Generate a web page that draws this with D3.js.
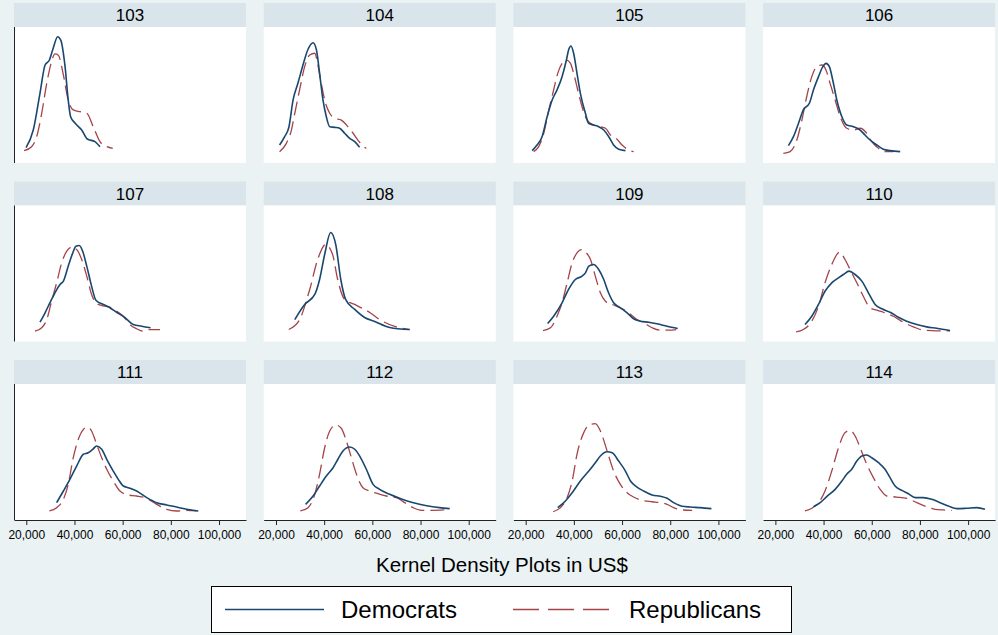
<!DOCTYPE html>
<html>
<head>
<meta charset="utf-8">
<script src="https://cdn.jsdelivr.net/npm/d3@7"></script>
<style>
  body { margin: 0; background: #eaf2f3; }
  text { font-family: "Liberation Sans", Arial, sans-serif; }
</style>
</head>
<body>
<script>
// salaries in thousands of US$, density in relative units (0-100)
const congresses = ["103", "104", "105", "106", "107", "108", "109", "110", "111", "112", "113", "114"];
const xTicks = [20, 40, 60, 80, 100];

const dem103 = [[19.9,5.7],[22.9,19.5],[25.7,48.4],[27.8,70.3],[29.6,74.2],[31.2,83.6],[33.0,92.4],[34.3,89.8],[36.1,69],[37.4,43],[38.4,29.9],[40.2,25],[43.0,19.5],[45.3,12.5],[48.5,10.4],[50.6,6.5]];
const rep103 = [[19.1,3.4],[22.2,6.5],[24.3,14.3],[26.4,32.6],[28.5,56],[30.5,73],[31.9,79],[33.3,78],[35.4,62.5],[37.4,43],[39.5,35.2],[42.3,33.8],[45.1,32.6],[47.8,22.1],[50.6,10.4],[53.4,6.5],[55.9,5.2]];

const dem104 = [[21.5,7.8],[23.6,14.3],[25.4,22.1],[27.1,43],[29.1,56],[31.2,70.3],[33.3,82.6],[35.4,87.7],[36.8,82],[38.1,63.8],[39.5,43],[40.9,29.9],[42.3,22.1],[44.4,21.6],[46.4,20.9],[48.5,17],[50.6,13],[52.7,10.4],[54.7,6.0]];
const rep104 = [[21.5,2.6],[24.3,9.1],[26.4,19.5],[27.8,32.6],[29.8,50.8],[31.9,69],[34.0,78.1],[36.1,79.5],[37.4,70.3],[38.8,56],[40.2,43],[42.3,32.6],[44.4,28.7],[47.1,27.3],[49.9,22.1],[52.0,17],[54.0,11.7],[56.1,7.0],[57.5,5.2]];

const dem105 = [[22.7,3.4],[24.7,7.8],[26.8,14.3],[28.9,29.9],[31.0,43],[33.0,50.8],[35.1,61.2],[36.9,74.2],[37.8,82],[38.8,85.2],[39.9,79.5],[41.3,63.8],[42.7,48.2],[44.8,32.6],[46.1,24.8],[48.2,23.4],[50.3,22.1],[52.4,19.5],[54.5,14.3],[56.5,7.8],[58.6,4.5],[61.4,3.4]];
const rep105 = [[23.3,2.6],[25.4,6.5],[27.5,17],[29.6,35.2],[31.6,50.8],[33.3,63.8],[35.1,71.6],[36.9,74.2],[38.6,71.6],[39.9,63.8],[41.6,50.8],[43.4,37.7],[45.5,27.3],[48.2,23.4],[51.0,22.1],[53.1,20.9],[55.2,15.6],[57.9,12.3],[60.0,7.8],[62.8,3.9],[64.8,2.6]];

const dem106 = [[25.4,7.3],[27.5,14.3],[29.6,24.8],[31.6,35.2],[34.1,40.4],[35.8,50.8],[37.9,61.2],[39.7,69],[41.0,71.6],[42.4,69],[43.8,58.6],[45.5,43],[47.6,29.9],[49.6,23.4],[52.4,22.1],[55.2,19.5],[57.2,15.6],[59.3,11.7],[62.1,7.8],[64.8,4.5],[67.6,3.4],[71.8,2.6]];
const rep106 = [[23.3,1.3],[26.1,2.6],[28.9,11.7],[31.0,27.3],[33.0,45.5],[35.1,61.2],[37.2,69],[39.3,70.3],[41.0,66.4],[42.7,56],[44.8,43],[46.9,29.9],[49.6,20.9],[52.4,19.5],[55.2,20.9],[57.9,17],[60.0,10.4],[62.8,5.2],[65.5,2.6],[69.0,2.6]];

const dem107 = [[25.7,8.8],[27.8,16.2],[29.8,24],[31.9,31.8],[34.0,38.3],[35.4,40.9],[37.4,52.6],[39.3,63],[40.6,68.2],[42.0,68.8],[43.4,64.3],[45.1,52.6],[47.1,37],[48.9,26],[52.0,22.7],[54.7,20.1],[57.5,16.6],[61.0,12.3],[64.4,7.0],[67.9,5.7],[71.6,4.5]];
const rep107 = [[23.6,1.8],[26.4,4.5],[28.5,10.9],[30.5,25.2],[32.6,39.6],[34.7,55.2],[36.8,64.3],[38.8,67.4],[40.9,65.6],[43.0,57.8],[45.1,44.8],[47.1,30.5],[49.9,22.7],[52.7,21.3],[55.4,20.1],[57.5,17.4],[60.3,13.5],[63.0,7.0],[65.8,3.7],[68.6,1.8],[71.3,3.1],[75.5,3.1]];

const dem108 = [[27.8,10.9],[31.9,22.7],[36.1,30.5],[38.1,42.2],[40.2,61.7],[42.7,78.9],[44.8,69.5],[46.9,42.2],[48.9,26.6],[52.7,18.8],[56.8,12.5],[61.0,9.4],[67.2,4.7],[75.5,3.1]];
const rep108 = [[25.3,3.1],[29.8,10.9],[34.0,34.4],[37.3,57.8],[40.6,69.5],[43.5,61.7],[45.6,42.2],[48.5,26.6],[52.7,22.7],[58.9,16.4],[63.0,10.9],[69.3,5.5],[75.5,3.1]];

const dem109 = [[29.1,7.8],[31.6,13.5],[35.1,24],[37.8,34.4],[40.6,42.2],[43.4,44.8],[44.8,47.4],[46.2,52.6],[48.2,53.9],[50.3,50],[52.4,42.2],[54.4,31.8],[56.5,24],[59.3,20.1],[62.1,16.2],[64.8,11.5],[67.6,9.6],[71.1,8.8],[74.5,7.6],[78.7,5.7],[83.1,3.9]];
const rep109 = [[27.2,2.3],[30.3,4.5],[33.0,13.5],[35.1,24],[37.2,39.6],[39.3,55.2],[41.3,63],[43.1,65.6],[45.2,63],[46.9,57.8],[48.9,44.8],[51.0,31.8],[53.1,25.2],[55.9,22.7],[59.3,20.1],[62.8,16.2],[66.2,10.9],[69.0,8.4],[72.5,4.5],[75.9,2.6],[79.4,2.6],[82.5,3.1]];

const dem110 = [[32.3,7.0],[35.1,13.5],[37.9,22.7],[40.6,33],[43.4,39.6],[46.2,43.5],[48.2,46.1],[50.6,48.7],[53.1,46.1],[55.9,40.9],[58.6,31.8],[61.4,22.7],[64.2,19.3],[67.6,16.6],[71.1,12.7],[74.5,9.6],[78.7,7.0],[82.8,5.2],[87.0,4.1],[92.5,2.3]];
const rep110 = [[28.6,1.3],[31.6,3.1],[35.1,9.6],[37.9,21.3],[40.6,39.6],[43.4,53.9],[46.6,63.5],[48.9,57.8],[51.0,50],[53.8,39.6],[56.5,29.1],[59.3,20.1],[62.1,18.2],[64.8,16.6],[69.0,13.5],[73.1,8.8],[77.3,5.2],[81.4,2.6],[87.0,2.1],[92.5,2.1]];

const dem111 = [[32.6,7.3],[35.4,16.4],[38.1,25.5],[40.9,35.9],[43.7,45.1],[45.7,46.3],[47.6,49.0],[49.2,51.6],[51.3,49.0],[53.4,41.2],[56.1,32.0],[58.2,25.5],[60.3,20.3],[62.3,19.0],[65.8,16.4],[70.0,11.2],[74.1,7.3],[78.3,5.5],[82.4,3.9],[86.6,2.1],[91.4,0.8]];
const rep111 = [[29.6,0.8],[32.6,3.4],[35.4,9.9],[37.4,21.6],[39.5,42.4],[41.6,56.8],[43.7,64.6],[45.3,66.4],[47.1,63.3],[49.2,52.9],[51.3,42.4],[53.4,33.4],[56.1,24.2],[58.9,16.4],[62.3,13.3],[65.8,12.5],[70.0,10.7],[74.1,6.0],[78.3,2.1],[82.4,0.8],[86.6,1.3],[90.7,0.8]];

const dem112 = [[32.3,6.0],[35.4,12.5],[38.1,20.3],[40.9,28.1],[43.7,34.6],[45.7,41.2],[47.8,47.7],[50.6,50.8],[52.7,49.0],[54.7,43.8],[57.5,33.4],[60.3,21.6],[63.0,17.7],[67.2,13.8],[71.3,10.7],[75.5,8.0],[79.6,6.0],[83.8,4.5],[87.9,3.4],[92.1,2.6]];
const rep112 = [[30.1,0.8],[33.3,3.4],[36.1,13.8],[38.1,29.5],[40.2,50.2],[42.3,63.3],[44.8,68.0],[47.1,65.4],[49.2,55.5],[51.3,42.4],[53.4,29.5],[56.1,19.0],[58.9,16.4],[62.3,14.3],[65.8,12.5],[70.0,11.2],[73.4,7.3],[76.9,3.4],[80.4,1.3],[84.5,1.3],[90.0,1.6]];

const dem113 = [[33.3,3.4],[36.5,8.6],[39.3,15.1],[42.7,24.2],[46.2,32.0],[48.9,38.5],[51.0,43.8],[53.8,47.1],[55.9,46.3],[58.6,39.8],[61.4,32.0],[63.5,24.2],[66.2,19.5],[69.0,16.4],[72.5,13.3],[75.9,12.3],[78.7,10.7],[81.4,7.3],[84.9,4.5],[88.4,3.9],[92.5,3.4],[97.1,2.6]];
const rep113 = [[31.4,0.2],[34.4,3.4],[37.2,11.2],[39.3,24.2],[41.3,45.1],[44.1,62.0],[46.9,68.5],[48.9,69.0],[51.0,63.3],[53.8,47.7],[56.5,32.0],[59.3,21.6],[62.1,15.1],[64.8,11.7],[68.3,9.1],[72.5,8.0],[75.9,7.3],[78.7,6.0],[81.4,3.4],[84.9,1.6],[89.1,1.3]];

const dem114 = [[35.8,4.1],[38.6,7.3],[41.3,12.0],[44.8,17.7],[47.6,24.2],[49.6,29.5],[51.7,33.4],[53.8,39.8],[55.9,43.8],[57.9,44.5],[60.0,42.4],[62.8,38.5],[65.5,33.4],[67.6,26.8],[69.7,20.3],[72.5,16.9],[75.2,14.3],[78.0,11.2],[81.4,11.2],[84.9,9.9],[88.4,7.3],[91.8,4.7],[95.3,2.6],[99.4,2.9],[103.6,3.4],[107.0,2.1]];
const rep114 = [[32.3,0.8],[35.1,2.9],[37.9,7.3],[40.6,16.4],[43.4,32.0],[46.2,50.2],[48.9,62.0],[51.0,63.8],[53.1,59.4],[55.2,50.2],[57.9,37.3],[60.7,26.8],[63.5,17.7],[66.2,12.5],[70.4,11.7],[74.5,10.7],[78.7,7.3],[82.8,4.1],[86.3,2.1],[89.7,1.6],[93.2,1.3]];

const demSeries = [dem103, dem104, dem105, dem106, dem107, dem108, dem109, dem110, dem111, dem112, dem113, dem114];
const repSeries = [rep103, rep104, rep105, rep106, rep107, rep108, rep109, rep110, rep111, rep112, rep113, rep114];

const demColor = "#1a476f", repColor = "#a5434a";
const width = 998, height = 635;
const panelW = 232, headH = 24, plotH = 136;

const svg = d3.select("body").append("svg")
    .attr("width", width)
    .attr("height", height);

svg.append("rect")
    .attr("width", width)
    .attr("height", height)
    .attr("fill", "#eaf2f3");

const x = d3.scaleLinear()
    .domain([14.9, 111.2])
    .range([0, panelW]);

const y = d3.scaleLinear()
    .domain([0, 100])
    .range([plotH - 8, 0]);

const line = d3.line()
    .x(d => x(d[0]))
    .y(d => y(d[1]))
    .curve(d3.curveMonotoneX);

congresses.forEach(function(c, i) {
    const col = i % 4, row = Math.floor(i / 4);
    const g = svg.append("g")
        .attr("transform", `translate(${14 + col * 249.7},${3 + row * 178.5})`);

    // strip header
    g.append("rect")
        .attr("width", panelW)
        .attr("height", headH)
        .attr("fill", "#d9e5eb");
    g.append("text")
        .attr("x", panelW / 2)
        .attr("y", 18)
        .attr("text-anchor", "middle")
        .style("font-size", "17px")
        .text(c);

    const p = g.append("g")
        .attr("transform", `translate(0,${headH})`);
    p.append("rect")
        .attr("width", panelW)
        .attr("height", plotH)
        .attr("fill", "#fff");

    p.append("path")
        .datum(repSeries[i])
        .attr("fill", "none")
        .attr("stroke", repColor)
        .attr("stroke-width", 1.3)
        .attr("stroke-dasharray", "14,6")
        .attr("d", line);
    p.append("path")
        .datum(demSeries[i])
        .attr("fill", "none")
        .attr("stroke", demColor)
        .attr("stroke-width", 1.6)
        .attr("d", line);

    if (col === 0) {
        p.append("line")
            .attr("x1", 0.5).attr("x2", 0.5)
            .attr("y1", 0).attr("y2", plotH)
            .attr("stroke", "#222");
    }
    if (row === 2) {
        const ax = p.append("g")
            .attr("transform", `translate(0,${plotH})`)
            .call(d3.axisBottom(x)
                .tickValues(xTicks)
                .tickSize(5)
                .tickSizeOuter(0)
                .tickPadding(5)
                .tickFormat(d => d3.format(",")(d * 1000)));
        ax.selectAll("path, line").attr("stroke", "#222");
        ax.selectAll("text")
            .style("font-size", "12px")
            .style("font-family", "'Liberation Sans', Arial, sans-serif")
            .attr("fill", "#000");
    }
});

svg.append("text")
    .attr("x", 502)
    .attr("y", 572)
    .attr("text-anchor", "middle")
    .style("font-size", "20.5px")
    .text("Kernel Density Plots in US$");

// legend
const leg = svg.append("g").attr("transform", "translate(211,586)");
leg.append("rect")
    .attr("x", 0.5).attr("y", 0.5)
    .attr("width", 580).attr("height", 46)
    .attr("fill", "#fff")
    .attr("stroke", "#000");
leg.append("line")
    .attr("x1", 14).attr("x2", 113)
    .attr("y1", 23.5).attr("y2", 23.5)
    .attr("stroke", demColor)
    .attr("stroke-width", 1.6);
leg.append("text")
    .attr("x", 130).attr("y", 32)
    .style("font-size", "24px")
    .text("Democrats");
leg.append("line")
    .attr("x1", 302).attr("x2", 398)
    .attr("y1", 23.5).attr("y2", 23.5)
    .attr("stroke", repColor)
    .attr("stroke-width", 1.6)
    .attr("stroke-dasharray", "26,9");
leg.append("text")
    .attr("x", 418).attr("y", 32)
    .style("font-size", "24px")
    .text("Republicans");
</script>
</body>
</html>
